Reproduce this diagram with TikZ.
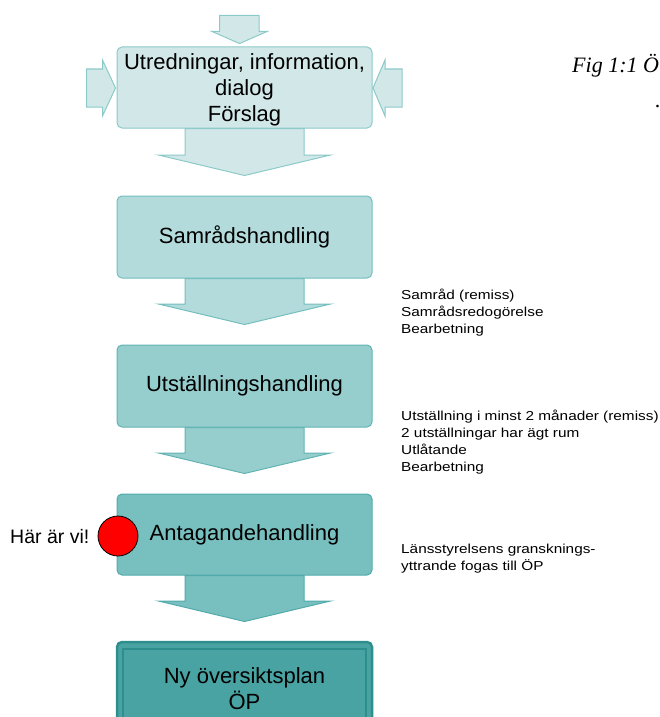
\documentclass[tikz,border=0pt]{standalone}
\usepackage{fontspec}
\setmainfont{Liberation Sans}
\newfontfamily\figfont{Liberation Serif}
\newfontfamily\notefont[FakeStretch=1.18]{Liberation Sans}
\usetikzlibrary{calc}
\definecolor{fillA}{HTML}{D2E8E8}
\definecolor{lineA}{HTML}{8CC9C9}
\definecolor{fillB}{HTML}{B3DBDB}
\definecolor{lineB}{HTML}{74BEBE}
\definecolor{fillC}{HTML}{96CDCD}
\definecolor{lineC}{HTML}{62B4B4}
\definecolor{fillD}{HTML}{78C0C0}
\definecolor{lineD}{HTML}{52AAAA}
\definecolor{fillE}{HTML}{4AA3A3}
\definecolor{lineE}{HTML}{2E8E8E}
\tikzset{
  stage/.style={rectangle, rounded corners=5pt, minimum width=255pt, inner sep=0pt,
    align=center, line width=1pt, font=\fontsize{22}{26}\selectfont},
  blockarr/.style={line width=1pt},
  note/.style={anchor=base west, inner sep=0pt, align=left, font=\notefont\fontsize{13}{17}\selectfont}
}
\newcommand\downarrowblock[4]{%
  \draw[blockarr, fill=#3, draw=#4]
    ($(#1.south)+(-59.5,0)$) -- ($(#2.north)+(-59.5,-40.5)$) -- ($(#2.north)+(-86,-40.5)$)
    -- ($(#2.north)+(0,-20)$) -- ($(#2.north)+(86,-40.5)$) -- ($(#2.north)+(59.5,-40.5)$)
    -- ($(#1.south)+(59.5,0)$) -- cycle;}
\begin{document}
\begin{tikzpicture}[x=1pt,y=-1pt]
\path[use as bounding box] (0,0) rectangle (660,717);
\clip (0,0) rectangle (660,717);

% node placement (boxes drawn later)
\path (244.5,87.5) node[stage, minimum height=81pt] (b1) {\phantom{X}};
\path (244.5,237) node[stage, minimum height=82pt] (b2) {\phantom{X}};
\path (244.5,386) node[stage, minimum height=82pt] (b3) {\phantom{X}};
\path (244.5,534.5) node[stage, minimum height=81pt] (b4) {\phantom{X}};
\path (244.5,686) node[stage, minimum height=88pt] (b5) {\phantom{X}};

% arrows into first box
\draw[blockarr, fill=fillA, draw=lineA]
  ($(b1.north)+(-25,-31)$) -- ($(b1.north)+(-25,-15)$) -- ($(b1.north)+(-32.5,-15)$)
  -- ($(b1.north)+(-5,-3)$) -- ($(b1.north)+(22.5,-15)$) -- ($(b1.north)+(14.5,-15)$)
  -- ($(b1.north)+(14.5,-31)$) -- cycle;
\draw[blockarr, fill=fillA, draw=lineA]
  ($(b1.west)+(-30,-18.5)$) -- ($(b1.west)+(-14,-18.5)$) -- ($(b1.west)+(-14,-27.5)$)
  -- ($(b1.west)+(-1,0.5)$) -- ($(b1.west)+(-14,28.5)$) -- ($(b1.west)+(-14,19.5)$)
  -- ($(b1.west)+(-30,19.5)$) -- cycle;
\draw[blockarr, fill=fillA, draw=lineA]
  ($(b1.east)+(29.5,-18.5)$) -- ($(b1.east)+(12.5,-18.5)$) -- ($(b1.east)+(12.5,-27.5)$)
  -- ($(b1.east)+(0.5,0.5)$) -- ($(b1.east)+(12.5,28.5)$) -- ($(b1.east)+(12.5,19.5)$)
  -- ($(b1.east)+(29.5,19.5)$) -- cycle;

% arrows between boxes
\downarrowblock{b1}{b2}{fillA}{lineA}
\downarrowblock{b2}{b3}{fillB}{lineB}
\downarrowblock{b3}{b4}{fillC}{lineC}
\downarrowblock{b4}{b5}{fillD}{lineD}

% boxes
\node[stage, fill=fillA, draw=lineA, minimum height=81pt] (b1) at (244.5,87.5) {};
\node[inner sep=0pt, align=center, font=\fontsize{22}{26}\selectfont] (b1txt) at (244.5,90)
  {Utredningar, information,\\dialog\\Förslag};
\node[stage, fill=fillB, draw=lineB, minimum height=82pt] (b2) at (244.5,237) {Samrådshandling};
\node[stage, fill=fillC, draw=lineC, minimum height=82pt] (b3) at (244.5,386) {Utställningshandling};
\node[stage, fill=fillD, draw=lineD, minimum height=81pt] (b4) at (244.5,534.5) {Antagandehandling};
\node[stage, fill=fillE, draw=lineE, line width=2.5pt, minimum height=88pt] (b5) at (244.5,686) {};
\node[inner sep=0pt, align=center, font=\fontsize{22}{26}\selectfont] (b5txt) at (244.5,689)
  {Ny översiktsplan\\ÖP};
\draw[lineE, line width=2pt] ($(b5.north west)+(7.5,8)$) rectangle ($(b5.south east)+(-7.5,-8)$);

% you are here
\node[circle, fill=red, draw=black, line width=0.8pt, minimum size=40pt, inner sep=0pt] (here) at (118,536) {};
\node[anchor=base west, inner sep=0pt, font=\fontsize{19.5}{22}\selectfont] (herelbl) at (10,543) {Här är vi!};

% notes (anchor at baseline of last line)
\node[note] (n1) at (401,333) {Samråd (remiss)\\Samrådsredogörelse\\Bearbetning};
\node[note] (n2) at (401,471) {Utställning i minst 2 månader (remiss)\\2 utställningar har ägt rum\\Utlåtande\\Bearbetning};
\node[note] (n3) at (401,570) {Länsstyrelsens gransknings-\\yttrande fogas till ÖP};

% figure caption (cut off at the edge)
\node[anchor=base west, inner sep=0pt, font=\figfont\itshape\fontsize{22}{26}\selectfont] (fig) at (572,72) {Fig 1:1 Ö};
\node[anchor=base east, inner sep=0pt, font=\figfont\itshape\fontsize{22}{26}\selectfont] (figdot) at (661,107) {.};
\end{tikzpicture}
\end{document}
